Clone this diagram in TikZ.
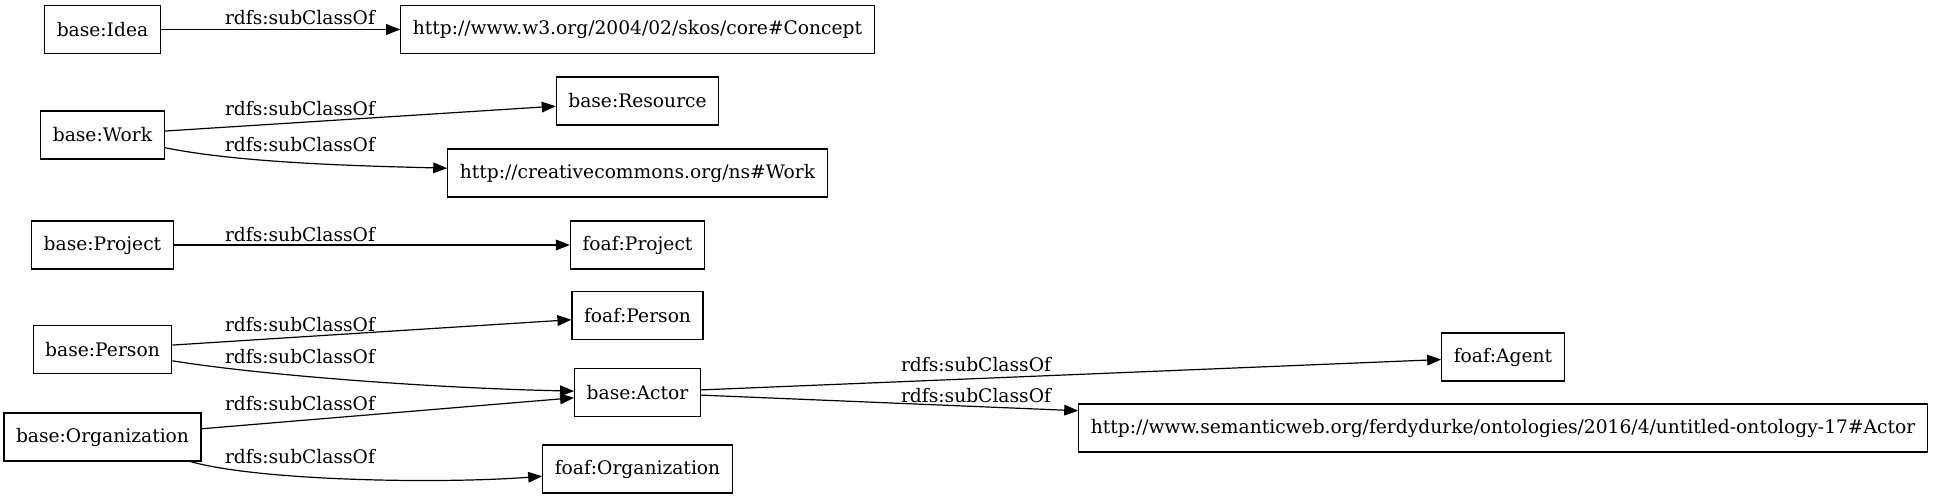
\documentclass[tikz,border=0pt]{standalone}
\usepackage{fontspec}
\setmainfont{DejaVu Serif}
\usetikzlibrary{arrows.meta}

\begin{document}
\begin{tikzpicture}[x=0.75pt,y=-0.75pt,
		cls/.style={
			draw,
			rectangle,
			line width=0.9pt,
			minimum height=36pt,
			inner xsep=9pt,
			font=\fontsize{14}{16}\selectfont
		},
		rel/.style={line width=0.9pt, -{Triangle[length=10.5pt,width=8pt]}},
		lbl/.style={inner sep=0pt, font=\fontsize{14}{16}\selectfont}]
		\useasboundingbox (0,0) rectangle (1935,499);
		
		% first rank
		\node[cls] (idea) at (102.5, 29.5) {base:Idea};
		\node[cls] (work) at (102.5, 135) {base:Work};
		\node[cls] (bproject) at (102.5, 245) {base:Project};
		\node[cls] (bperson) at (102.5, 349.5) {base:Person};
		\node[cls] (borg) at (102.5, 437) {base:Organization};
		
		% second rank
		\node[cls] (concept) at (637.5, 29.5) {http://www.w3.org/2004/02/skos/core\#Concept};
		\node[cls] (resource) at (637.5, 101) {base:Resource};
		\node[cls] (ccwork) at (637.5, 173) {http://creativecommons.org/ns\#Work};
		\node[cls] (fproject) at (637.5, 245) {foaf:Project};
		\node[cls] (fperson) at (637.5, 315.5) {foaf:Person};
		\node[cls] (actor) at (637.5, 392.5) {base:Actor};
		\node[cls] (forg) at (637.5, 469) {foaf:Organization};
		
		% third rank
		\node[cls] (agent) at (1503, 357) {foaf:Agent};
		\node[cls] (semweb) at (1503, 428) {http://www.semanticweb.org/ferdydurke/ontologies/2016/4/untitled-ontology-17\#Actor};
		
		\draw[rel] (idea) -- (concept);
		\draw[rel] (work) -- (resource);
		\draw[rel] (work) .. controls (240,163) and (360,166) .. (ccwork);
		\draw[rel] (bproject) -- (fproject);
		\draw[rel] (bperson) -- (fperson);
		\draw[rel] (bperson) .. controls (260,375) and (430,388) .. (actor);
		\draw[rel] (borg) -- (actor);
		\draw[rel] (borg) .. controls (260,481) and (440,484) .. (forg);
		\draw[rel] (actor) -- (agent);
		\draw[rel] (actor) -- (semweb);
		
		\node[lbl] (sub1) at (300, 18) {rdfs:subClassOf};
		\node[lbl] (sub2) at (300, 109) {rdfs:subClassOf};
		\node[lbl] (sub3) at (300, 144.5) {rdfs:subClassOf};
		\node[lbl] (sub4) at (300, 234.5) {rdfs:subClassOf};
		\node[lbl] (sub5) at (300, 324.5) {rdfs:subClassOf};
		\node[lbl] (sub6) at (300, 357) {rdfs:subClassOf};
		\node[lbl] (sub7) at (300, 404) {rdfs:subClassOf};
		\node[lbl] (sub8) at (300, 457) {rdfs:subClassOf};
		\node[lbl] (sub9) at (976, 365) {rdfs:subClassOf};
		\node[lbl] (sub10) at (976, 396) {rdfs:subClassOf};
	\end{tikzpicture}
\end{document}
